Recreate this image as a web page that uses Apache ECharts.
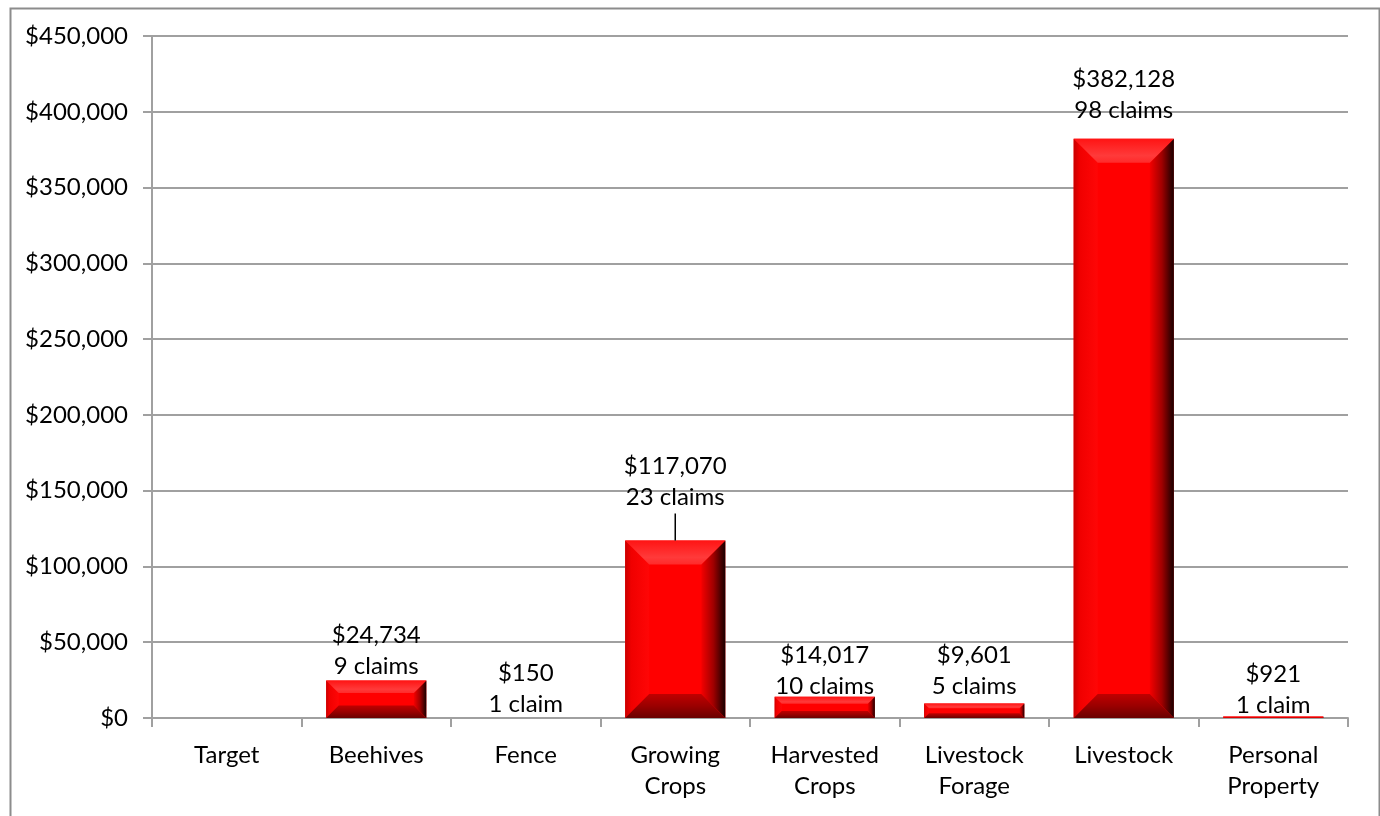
<!DOCTYPE html>
<html>
<head>
<meta charset="utf-8">
<script src="https://cdn.jsdelivr.net/npm/echarts@6/dist/echarts.min.js"></script>
<style>
  html, body { margin: 0; padding: 0; background: #fff; }
  #chart { width: 1380px; height: 816px; }
</style>
</head>
<body>
<div id="chart"></div>
<script>
// Damage categories along the x axis
const categories = ['Target', 'Beehives', 'Fence', 'Growing\nCrops', 'Harvested\nCrops', 'Livestock\nForage', 'Livestock', 'Personal\nProperty'];
// Dollars paid per category (null = no bar)
const amounts = [null, 24734, 150, 117070, 14017, 9601, 382128, 921];
// Number of claims per category
const claims = [null, 9, 1, 23, 10, 5, 98, 1];
// Y axis ticks
const yMin = 0, yMax = 450000, yStep = 50000;

// Space between each bar top and its label (px); a large gap gets a leader line
const labelGap = [0, -1, -2, 28, -5, 2, 13, -4];

const money = v => '$' + Math.round(v).toLocaleString('en-US');
const FONT = 'Lato, "Open Sans", sans-serif';
const BAR_RATIO = 0.67;

function renderBevelBar(params, api) {
  const idx = api.value(0);
  const val = api.value(1);
  if (val == null || isNaN(val)) return;
  const top = api.coord([idx, val]);
  const base = api.coord([idx, 0]);
  const w = api.size([1, 0])[0] * BAR_RATIO;
  const x0 = top[0] - w / 2, x1 = top[0] + w / 2;
  const yT = top[1], yB = base[1];
  const h = yB - yT;
  const children = [];
  if (h > 0.3) {
    const b = Math.min(24, h / 3, w / 4);
    // face
    children.push({
      type: 'rect',
      shape: { x: x0, y: yT, width: w, height: h },
      style: { fill: '#ff0000' }
    });
    // left bevel
    children.push({
      type: 'polygon',
      shape: { points: [[x0, yT], [x0 + b, yT + b], [x0 + b, yB - b], [x0, yB]] },
      style: { fill: new echarts.graphic.LinearGradient(0, 0, 1, 0, [
        { offset: 0, color: '#c80000' }, { offset: 0.25, color: '#f00000' }, { offset: 1, color: '#ff0606' }
      ]) }
    });
    // right bevel, shading to black
    children.push({
      type: 'polygon',
      shape: { points: [[x1, yT], [x1 - b, yT + b], [x1 - b, yB - b], [x1, yB]] },
      style: { fill: new echarts.graphic.LinearGradient(0, 0, 1, 0, [
        { offset: 0, color: '#f40000' }, { offset: 0.5, color: '#a00000' }, { offset: 0.85, color: '#400000' }, { offset: 1, color: '#1a0000' }
      ]) }
    });
    // top bevel, lighter
    children.push({
      type: 'polygon',
      shape: { points: [[x0, yT], [x1, yT], [x1 - b, yT + b], [x0 + b, yT + b]] },
      style: { fill: new echarts.graphic.LinearGradient(0, 0, 0, 1, [
        { offset: 0, color: '#ff1414' }, { offset: 0.7, color: '#ff3a3a' }, { offset: 1, color: '#ff2a2a' }
      ]) }
    });
    // bottom bevel, darker
    children.push({
      type: 'polygon',
      shape: { points: [[x0, yB], [x1, yB], [x1 - b, yB - b], [x0 + b, yB - b]] },
      style: { fill: new echarts.graphic.LinearGradient(0, 0, 0, 1, [
        { offset: 0, color: '#c00000' }, { offset: 0.5, color: '#9a0000' }, { offset: 1, color: '#6a0000' }
      ]) }
    });
  }
  // leader line for labels lifted far above their bar
  const gap = labelGap[idx];
  if (gap > 20) {
    children.push({
      type: 'line',
      shape: { x1: top[0], y1: yT, x2: top[0], y2: yT - gap + 1 },
      style: { stroke: '#000', lineWidth: 1.5 }
    });
  }
  return { type: 'group', children: children };
}

const chart = echarts.init(document.getElementById('chart'), null, { renderer: 'canvas' });

chart.setOption({
  backgroundColor: '#fff',
  animation: false,
  textStyle: { fontFamily: FONT },
  graphic: [{
    type: 'rect',
    left: 8, top: 6,
    shape: { width: 1369, height: 830 },
    style: { fill: 'none', stroke: '#8c8c8c', lineWidth: 2 },
    silent: true
  }],
  grid: { left: 152, right: 32, top: 36, bottom: 98 },
  xAxis: {
    type: 'category',
    data: categories,
    axisLine: { show: true, lineStyle: { color: '#a0a0a0', width: 2 } },
    axisTick: { show: true, alignWithLabel: false, interval: 0, length: 9, lineStyle: { color: '#a0a0a0', width: 2 } },
    axisLabel: { interval: 0, color: '#000', fontFamily: FONT, fontSize: 24, lineHeight: 31, margin: 22 }
  },
  yAxis: {
    type: 'value',
    min: yMin, max: yMax, interval: yStep,
    axisLine: { show: true, lineStyle: { color: '#a0a0a0', width: 2 } },
    axisTick: { show: true, length: 9, lineStyle: { color: '#a0a0a0', width: 2 } },
    splitLine: { show: true, lineStyle: { color: '#a0a0a0', width: 2 } },
    axisLabel: { color: '#000', fontFamily: FONT, fontSize: 24, margin: 24, formatter: v => money(v) }
  },
  series: [
    {
      type: 'custom',
      renderItem: renderBevelBar,
      data: amounts.map((v, i) => [i, v]),
      encode: { x: 0, y: 1 },
      z: 2
    },
    {
      // invisible bars that carry the value labels
      type: 'bar',
      barWidth: (BAR_RATIO * 100) + '%',
      data: amounts.map((v, i) => ({
        value: v,
        label: {
          show: v != null,
          position: 'top',
          distance: labelGap[i],
          formatter: () => money(v) + '\n' + claims[i] + (claims[i] === 1 ? ' claim' : ' claims')
        }
      })),
      itemStyle: { color: 'rgba(0,0,0,0)' },
      label: { color: '#000', fontFamily: FONT, fontSize: 24, lineHeight: 31, align: 'center' },
      z: 3,
      silent: true
    }
  ]
});
</script>
</body>
</html>
